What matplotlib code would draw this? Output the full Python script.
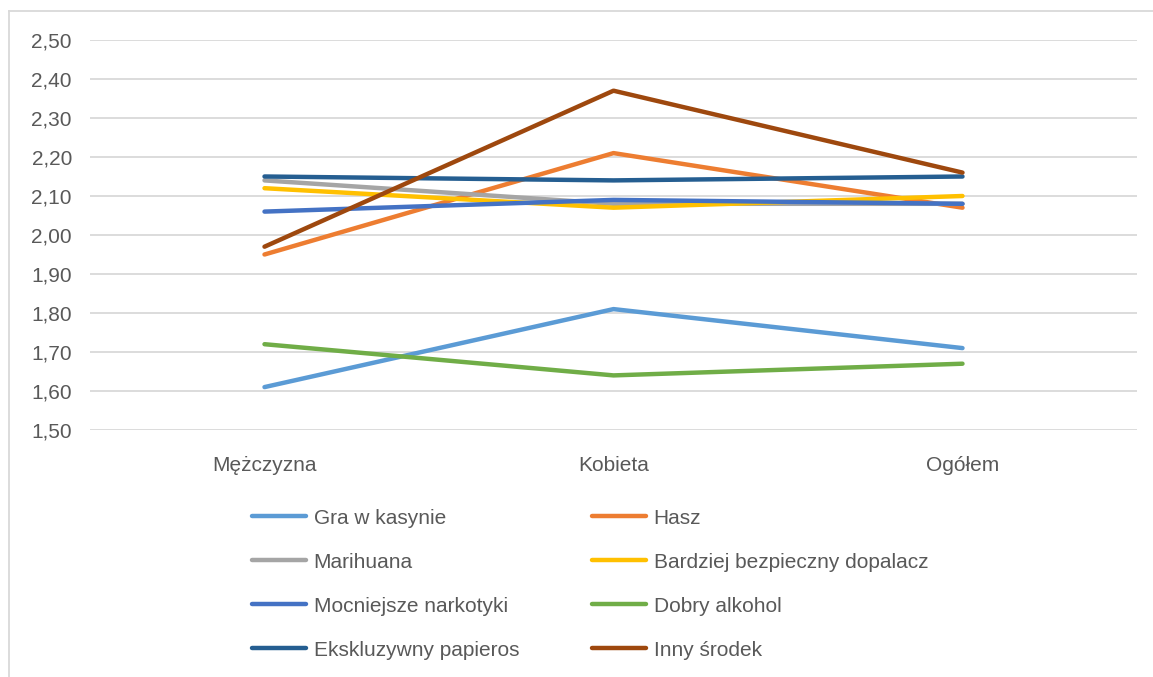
import matplotlib.pyplot as plt
from matplotlib.lines import Line2D
from matplotlib.ticker import FuncFormatter

plt.rcParams['font.family'] = ['Liberation Sans', 'DejaVu Sans']

categories = ['Mężczyzna', 'Kobieta', 'Ogółem']

series_names = ['Gra w kasynie', 'Hasz', 'Marihuana', 'Bardziej bezpieczny dopalacz',
                'Mocniejsze narkotyki', 'Dobry alkohol', 'Ekskluzywny papieros', 'Inny środek']

gra          = [1.61, 1.81, 1.71]
hasz         = [1.95, 2.21, 2.07]
marihuana    = [2.14, 2.08, 2.08]
dopalacz     = [2.12, 2.07, 2.10]
mocniejsze   = [2.06, 2.09, 2.08]
alkohol      = [1.72, 1.64, 1.67]
papieros     = [2.15, 2.14, 2.15]
inny         = [1.97, 2.37, 2.16]

series = [gra, hasz, marihuana, dopalacz, mocniejsze, alkohol, papieros, inny]
colors = ['#5B9BD5', '#ED7D31', '#A5A5A5', '#FFC000',
          '#4472C4', '#70AD47', '#255E91', '#9E480E']

fig = plt.figure(figsize=(11.53, 6.77), dpi=100)
ax = fig.add_axes([90 / 1153, 1 - 430 / 677, 1047 / 1153, 390 / 677])

x = range(len(categories))
handles = []
for vals, name, c in zip(series, series_names, colors):
    ln, = ax.plot(x, vals, color=c, lw=3.2, solid_capstyle='round', label=name)
    handles.append(ln)

ax.set_xlim(-0.5, 2.5)
ax.set_ylim(1.5, 2.5)
ax.set_yticks([1.5 + 0.1 * i for i in range(11)])
ax.yaxis.set_major_formatter(FuncFormatter(lambda v, p: f'{v:.2f}'.replace('.', ',')))
ax.set_xticks(list(x))
ax.set_xticklabels(categories)
ax.tick_params(length=0, labelsize=15, labelcolor='#595959')
ax.tick_params(axis='x', pad=19)
ax.tick_params(axis='y', pad=13)
ax.grid(axis='y', color='#D9D9D9', lw=1.3)
ax.set_axisbelow(True)
for s in ax.spines.values():
    s.set_visible(False)

order = [0, 2, 4, 6, 1, 3, 5, 7]
leg = fig.legend([handles[i] for i in order], [series_names[i] for i in order],
                 ncol=2, loc='center', bbox_to_anchor=(590 / 1153, 1 - 584 / 677),
                 frameon=False, fontsize=15, handlelength=2.6, handletextpad=0.36,
                 columnspacing=3.5, labelspacing=1.2)
for t in leg.get_texts():
    t.set_color('#595959')

# chart area border (only top and left visible in the crop)
fig.add_artist(Line2D([8.5 / 1153, 1], [1 - 10.5 / 677] * 2, color='#D9D9D9', lw=1.3))
fig.add_artist(Line2D([8.5 / 1153] * 2, [0, 1 - 10.5 / 677], color='#D9D9D9', lw=1.3))

fig.savefig('out.png', dpi=100)
